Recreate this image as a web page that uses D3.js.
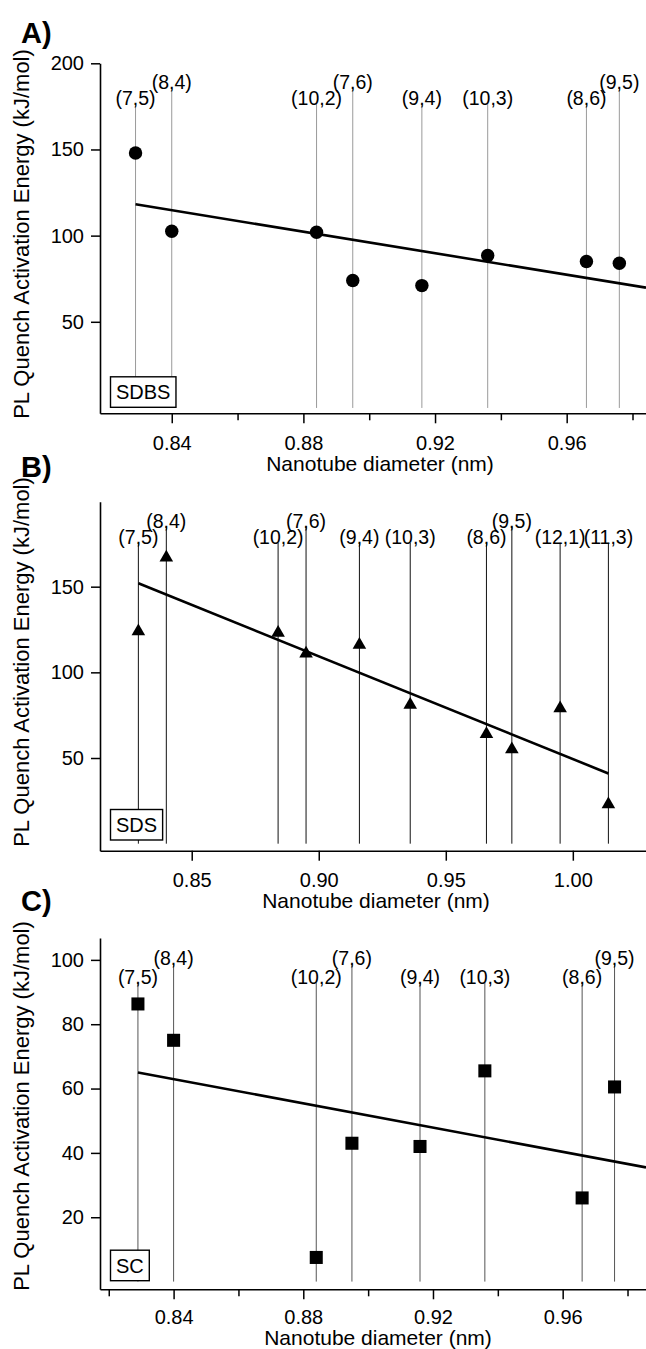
<!DOCTYPE html>
<html>
<head>
<meta charset="utf-8">
<script src="https://cdn.jsdelivr.net/npm/d3@7"></script>
<style>
  body { margin: 0; background: #fff; }
  text { font-family: "Liberation Sans", Arial, sans-serif; }
</style>
</head>
<body>
<svg id="quench" width="646" height="1349"></svg>
<script>
/* Data */
var chiralities = ["(7,5)", "(8,4)", "(10,2)", "(7,6)", "(9,4)", "(10,3)", "(8,6)", "(9,5)", "(12,1)", "(11,3)"];
var diameters = [0.829, 0.840, 0.884, 0.895, 0.916, 0.936, 0.966, 0.976, 0.995, 1.014];
var raisedLabels = ["(8,4)", "(7,6)", "(9,5)"];

var sdbsEnergy = [148, 102.5, 102, 74, 71, 88.5, 85, 84];
var sdsEnergy = [124, 167, 123, 111, 116, 81, 64, 55, 79, 23];
var scEnergy = [86.3, 75, 7.5, 43, 42, 65.5, 26, 60.5];

var sdbsFit = [[0.829, 118.2], [0.9841, 69.8]];
var sdsFit = [[0.829, 152], [1.014, 41]];
var scFit = [[0.829, 65], [0.9857, 35.5]];

var sdbsYTicks = [50, 100, 150, 200];
var sdsYTicks = [50, 100, 150];
var scYTicks = [20, 40, 60, 80, 100];

var sdbsXMajor = [0.84, 0.88, 0.92, 0.96];
var sdbsXMinor = [0.86, 0.90, 0.94, 0.98];
var sdsXMajor = [0.85, 0.90, 0.95, 1.00];
var sdsXMinor = [];
var scXMajor = [0.84, 0.88, 0.92, 0.96];
var scXMinor = [0.82, 0.86, 0.90, 0.94, 0.98];

var yTitle = "PL Quench Activation Energy (kJ/mol)";
var xTitle = "Nanotube diameter (nm)";

var svg = d3.select("#quench");
var plotLeft = 100, plotRight = 646;

function drawPanel(cfg) {
    var x = d3.scaleLinear().domain(cfg.xDomain).range([plotLeft, plotRight]);
    var y = d3.scaleLinear().domain(cfg.yDomain).range([cfg.bottom, cfg.top]);
    var g = svg.append("g");

    var pts = cfg.values.map(function(v, i) {
        return {name: chiralities[i], d: diameters[i], e: v,
                raised: raisedLabels.indexOf(chiralities[i]) >= 0};
    });

    /* guide lines up to the chirality labels */
    g.selectAll("line.guide")
        .data(pts)
        .enter()
        .append("line")
        .attr("class", "guide")
        .attr("x1", d => x(d.d))
        .attr("x2", d => x(d.d))
        .attr("y1", y(0))
        .attr("y2", d => y(d.raised ? cfg.labelHi : cfg.labelLo) - 1)
        .attr("stroke", cfg.guideColor)
        .attr("stroke-width", 1);

    g.selectAll("text.chir")
        .data(pts)
        .enter()
        .append("text")
        .attr("class", "chir")
        .attr("x", d => x(d.d))
        .attr("y", d => y(d.raised ? cfg.labelHi : cfg.labelLo))
        .attr("text-anchor", "middle")
        .attr("font-size", 19.5)
        .text(d => d.name);

    /* linear fit */
    var line = d3.line().x(d => x(d[0])).y(d => y(d[1]));
    g.append("path")
        .datum(cfg.fit)
        .attr("d", line)
        .attr("fill", "none")
        .attr("stroke", "#000")
        .attr("stroke-width", 2.6);

    /* markers */
    var sym = d3.symbol().type(cfg.symbol).size(cfg.symbolSize);
    g.selectAll("path.pt")
        .data(pts)
        .enter()
        .append("path")
        .attr("class", "pt")
        .attr("d", sym)
        .attr("transform", d => "translate(" + x(d.d) + "," + y(d.e) + ")")
        .attr("fill", "#000");

    /* axes */
    var xa = g.append("g")
        .attr("transform", "translate(0," + cfg.bottom + ")")
        .call(d3.axisBottom(x).tickValues(cfg.xMajor).tickSize(10).tickSizeOuter(0)
            .tickPadding(cfg.xPad).tickFormat(d3.format(".2f")));
    var xm = g.append("g")
        .attr("transform", "translate(0," + cfg.bottom + ")")
        .call(d3.axisBottom(x).tickValues(cfg.xMinor).tickSize(7).tickFormat(""));
    xm.select(".domain").remove();
    var ya = g.append("g")
        .attr("transform", "translate(" + plotLeft + ",0)")
        .call(d3.axisLeft(y).tickValues(cfg.yTicks).tickSize(9).tickSizeOuter(0).tickPadding(7));

    [xa, xm, ya].forEach(function(a) {
        a.attr("font-size", 20).attr("font-family", null);
        a.selectAll("line").attr("stroke-width", 1.5);
        a.selectAll(".domain").attr("stroke-width", 1.6);
    });

    /* titles */
    g.append("text")
        .attr("x", cfg.xTitleX)
        .attr("y", cfg.bottom + cfg.xTitleGap)
        .attr("text-anchor", "middle")
        .attr("font-size", 21)
        .text(xTitle);
    g.append("text")
        .attr("text-anchor", "middle")
        .attr("font-size", 22)
        .attr("transform", "translate(29," + cfg.yTitleY + ") rotate(-90)")
        .text(yTitle);

    g.append("text")
        .attr("x", 21)
        .attr("y", cfg.letterY)
        .attr("font-size", 29)
        .attr("font-weight", "bold")
        .text(cfg.letter);

    /* surfactant box */
    var bt = g.append("text")
        .attr("x", 116)
        .attr("y", cfg.boxBottom - 8)
        .attr("font-size", 20)
        .text(cfg.name);
    var bw = bt.node().getComputedTextLength();
    g.append("rect")
        .attr("x", 110.5)
        .attr("y", cfg.boxBottom - 30.5)
        .attr("width", bw + 11)
        .attr("height", 30.5)
        .attr("fill", "#fff")
        .attr("stroke", "#000")
        .attr("stroke-width", 1.4);
    bt.raise();
}

drawPanel({
    letter: "A)", letterY: 43, name: "SDBS",
    values: sdbsEnergy, fit: sdbsFit,
    xDomain: [0.8182, 0.9841], yDomain: [-3.1, 200],
    top: 63.3, bottom: 413.3,
    yTicks: sdbsYTicks, xMajor: sdbsXMajor, xMinor: sdbsXMinor,
    labelLo: 176, labelHi: 185, guideColor: "#9a9a9a",
    symbol: d3.symbolCircle, symbolSize: 142,
    boxBottom: 407.3, xPad: 12.5, xTitleX: 380, xTitleGap: 57.5, yTitleY: 234
});

drawPanel({
    letter: "B)", letterY: 477, name: "SDS",
    values: sdsEnergy, fit: sdsFit,
    xDomain: [0.8139, 1.0288], yDomain: [-4.1, 199.6],
    top: 501.7, bottom: 850.7,
    yTicks: sdsYTicks, xMajor: sdsXMajor, xMinor: sdsXMinor,
    labelLo: 175, labelHi: 184.5, guideColor: "#111",
    symbol: d3.symbolTriangle, symbolSize: 80,
    boxBottom: 840, xPad: 12.5, xTitleX: 376, xTitleGap: 57.5, yTitleY: 662
});

drawPanel({
    letter: "C)", letterY: 911, name: "SC",
    values: scEnergy, fit: scFit,
    xDomain: [0.8173, 0.9857], yDomain: [-2.4, 106.8],
    top: 938, bottom: 1289.3,
    yTicks: scYTicks, xMajor: scXMajor, xMinor: scXMinor,
    labelLo: 92.6, labelHi: 98.4, guideColor: "#555",
    symbol: d3.symbolSquare, symbolSize: 170,
    boxBottom: 1280.7, xPad: 10.5, xTitleX: 378, xTitleGap: 55.3, yTitleY: 1106
});
</script>
</body>
</html>
